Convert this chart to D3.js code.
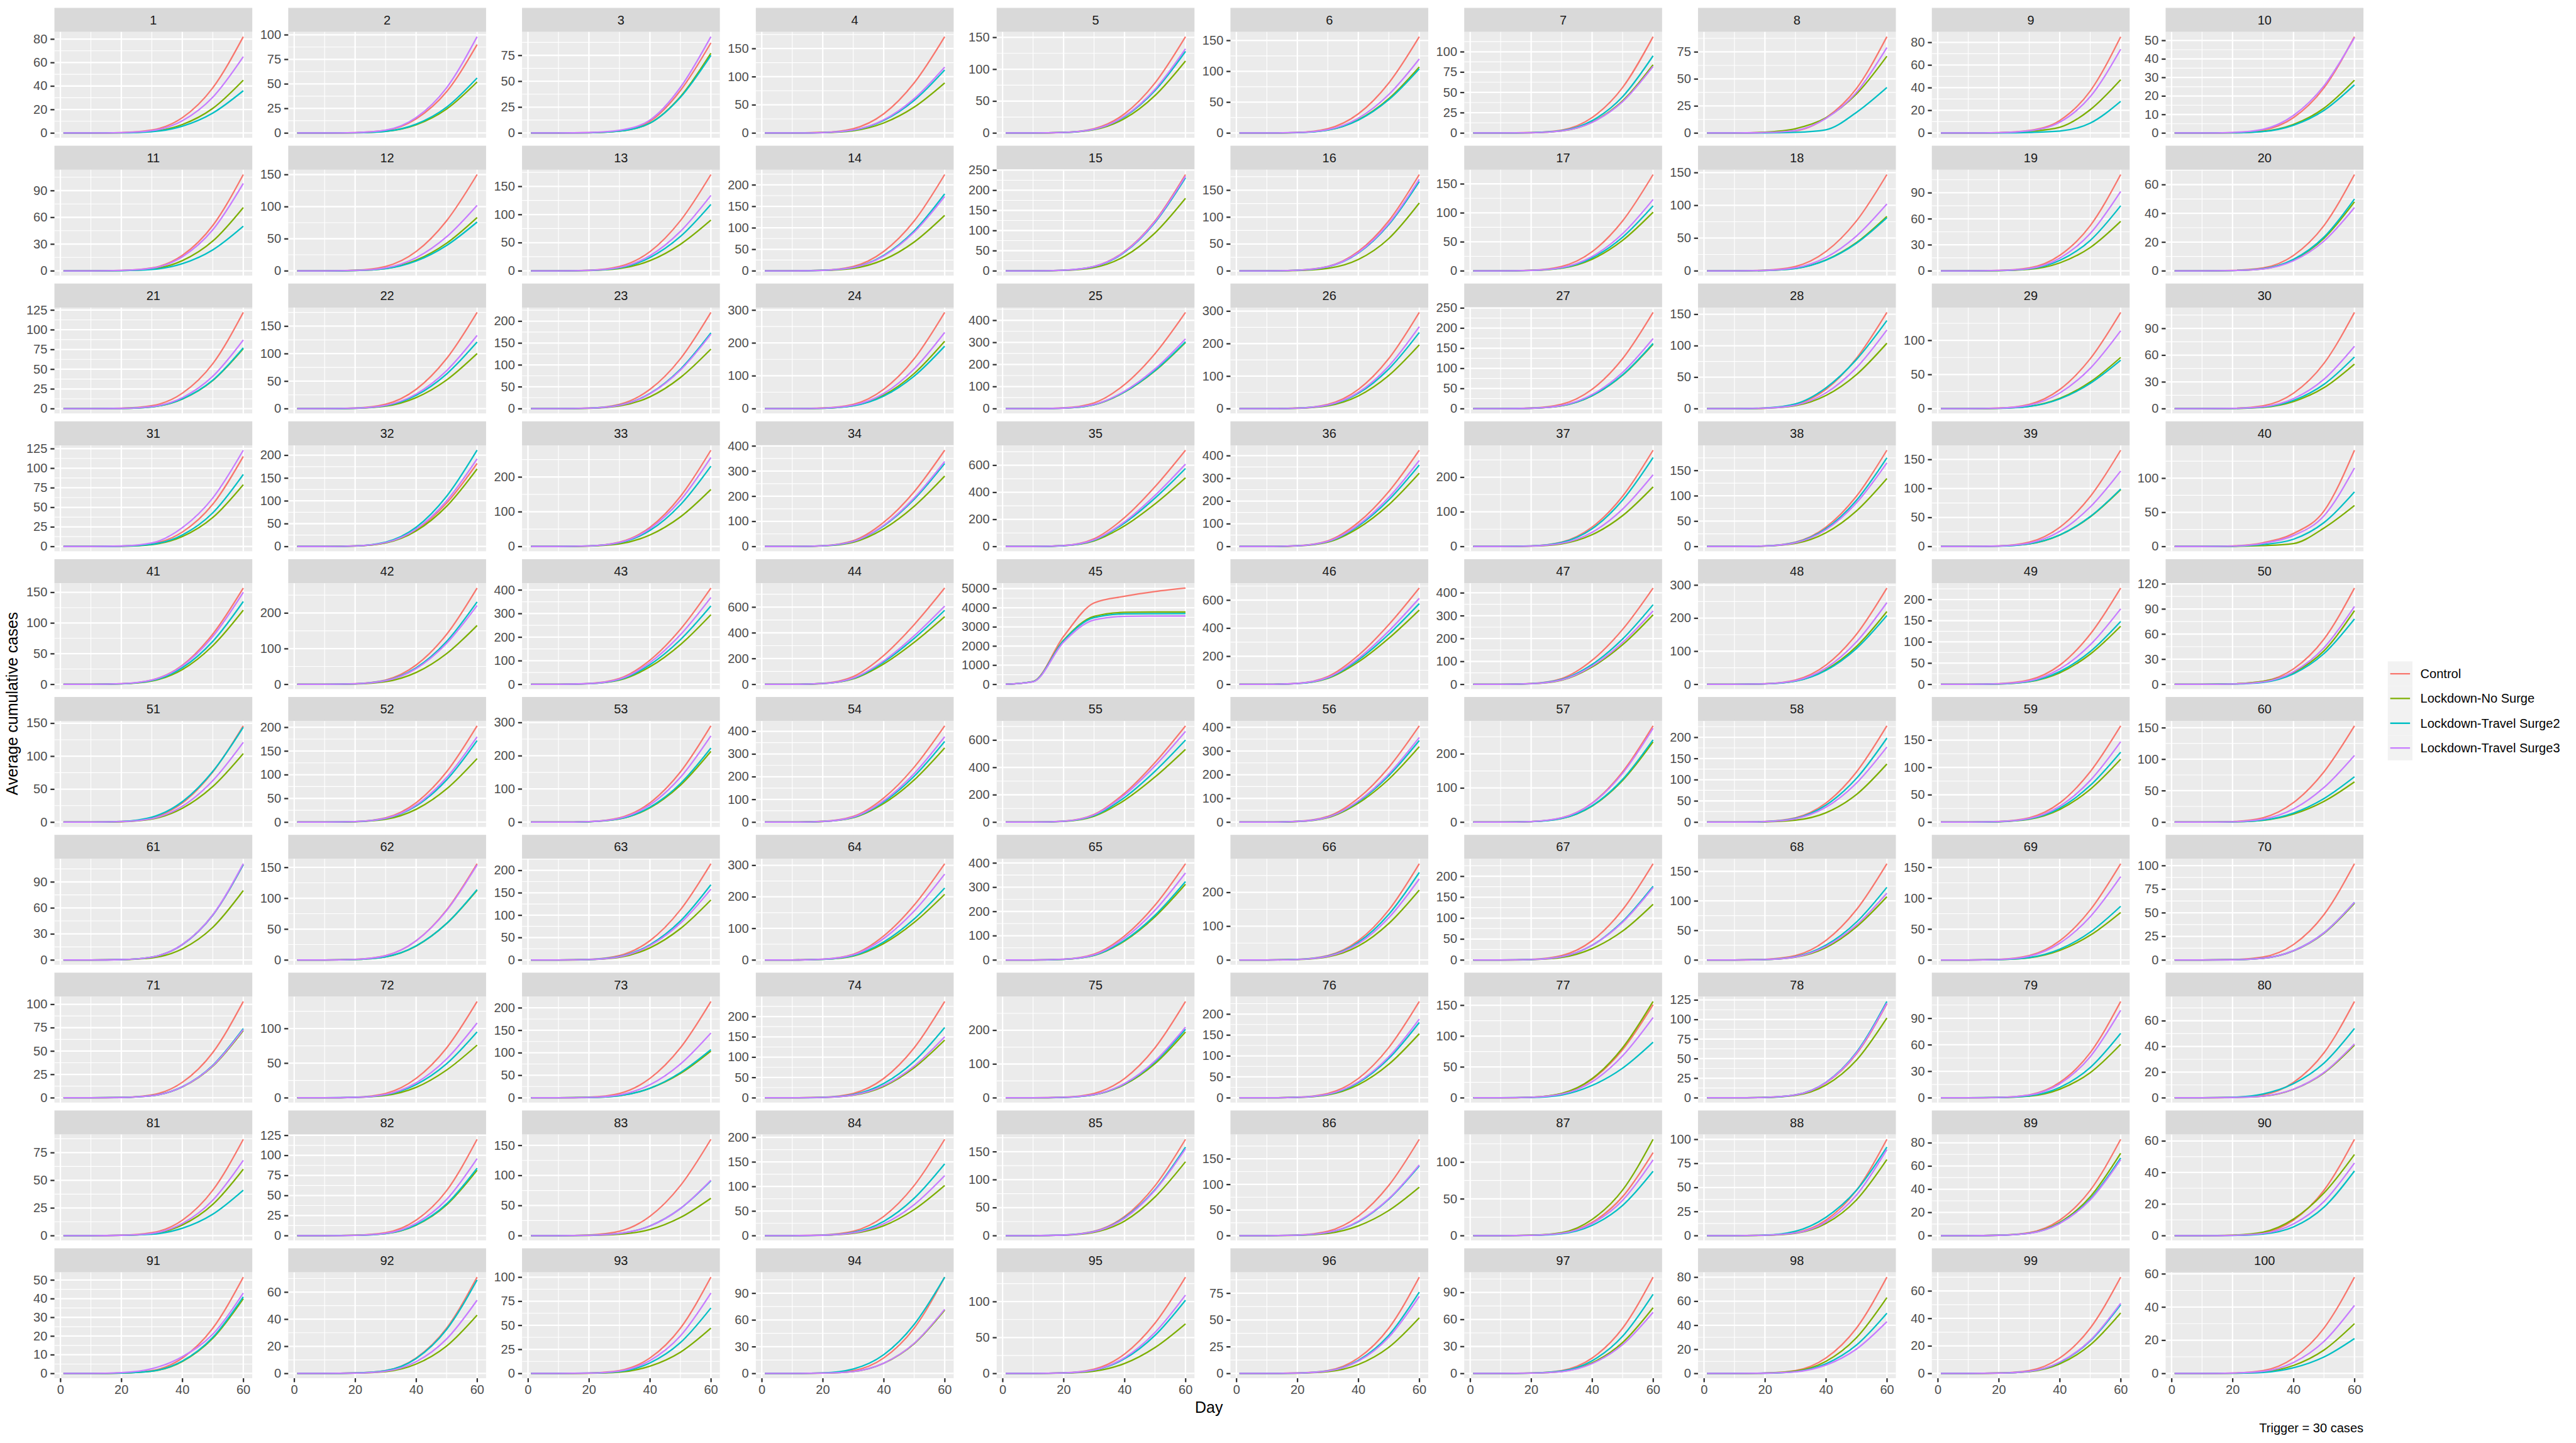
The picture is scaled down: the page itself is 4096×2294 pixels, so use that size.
<!DOCTYPE html>
<html><head><meta charset="utf-8"><title>Average cumulative cases</title>
<script src="https://cdn.jsdelivr.net/npm/d3@7/dist/d3.min.js"></script>
<style>html,body{margin:0;padding:0;background:#fff;}svg{display:block;}</style>
</head><body>
<svg id="chart" width="4096" height="2294" viewBox="0 0 7500 4200"></svg>
<script>
const days = [1, 10, 20, 30, 40, 50, 60];
const xTicks = [0, 20, 40, 60];
const panelLabels = ["1","2","3","4","5","6","7","8","9","10","11","12","13","14","15","16","17","18","19","20","21","22","23","24","25","26","27","28","29","30","31","32","33","34","35","36","37","38","39","40","41","42","43","44","45","46","47","48","49","50","51","52","53","54","55","56","57","58","59","60","61","62","63","64","65","66","67","68","69","70","71","72","73","74","75","76","77","78","79","80","81","82","83","84","85","86","87","88","89","90","91","92","93","94","95","96","97","98","99","100"];
const seriesNames = ["Control", "Lockdown-No Surge", "Lockdown-Travel Surge2", "Lockdown-Travel Surge3"];
const seriesColors = ["#F8766D", "#7CAE00", "#00BFC4", "#C77CFF"];
const xTitle = "Day";
const yTitle = "Average cumulative cases";
const caption = "Trigger = 30 cases";

const yTicks = [
[0,20,40,60,80],[0,25,50,75,100],[0,25,50,75],[0,50,100,150],[0,50,100,150],[0,50,100,150],[0,25,50,75,100],[0,25,50,75],[0,20,40,60,80],[0,10,20,30,40,50],
[0,30,60,90],[0,50,100,150],[0,50,100,150],[0,50,100,150,200],[0,50,100,150,200,250],[0,50,100,150],[0,50,100,150],[0,50,100,150],[0,30,60,90],[0,20,40,60],
[0,25,50,75,100,125],[0,50,100,150],[0,50,100,150,200],[0,100,200,300],[0,100,200,300,400],[0,100,200,300],[0,50,100,150,200,250],[0,50,100,150],[0,50,100],[0,30,60,90],
[0,25,50,75,100,125],[0,50,100,150,200],[0,100,200],[0,100,200,300,400],[0,200,400,600],[0,100,200,300,400],[0,100,200],[0,50,100,150],[0,50,100,150],[0,50,100],
[0,50,100,150],[0,100,200],[0,100,200,300,400],[0,200,400,600],[0,1000,2000,3000,4000,5000],[0,200,400,600],[0,100,200,300,400],[0,100,200,300],[0,50,100,150,200],[0,30,60,90,120],
[0,50,100,150],[0,50,100,150,200],[0,100,200,300],[0,100,200,300,400],[0,200,400,600],[0,100,200,300,400],[0,100,200],[0,50,100,150,200],[0,50,100,150],[0,50,100,150],
[0,30,60,90],[0,50,100,150],[0,50,100,150,200],[0,100,200,300],[0,100,200,300,400],[0,100,200],[0,50,100,150,200],[0,50,100,150],[0,50,100,150],[0,25,50,75,100],
[0,25,50,75,100],[0,50,100],[0,50,100,150,200],[0,50,100,150,200],[0,100,200],[0,50,100,150,200],[0,50,100,150],[0,25,50,75,100,125],[0,30,60,90],[0,20,40,60],
[0,25,50,75],[0,25,50,75,100,125],[0,50,100,150],[0,50,100,150,200],[0,50,100,150],[0,50,100,150],[0,50,100],[0,25,50,75,100],[0,20,40,60,80],[0,20,40,60],
[0,10,20,30,40,50],[0,20,40,60],[0,25,50,75,100],[0,30,60,90],[0,50,100],[0,25,50,75],[0,30,60,90],[0,20,40,60,80],[0,20,40,60],[0,20,40,60]
];

const control = [
[0,0,0.3,2.5,13,38.5,82],[0,0,0.4,2.7,14.4,42,90],[0,0,0.3,2.2,11.3,41,87],[0,0,1,7.7,34,89,171],[0,0,0.9,6.8,30,78.5,151],
[0,0,0.9,7,31,81,156],[0,0,0.5,3.6,19,56,118.5],[0,0,0.4,2,14,41,89],[0,0,0.3,2.2,11,37,85],[0,0,0.2,1.6,8.3,24.4,52],
[0,0,0.4,3.2,17.3,50.8,108],[0,0,0.9,6.8,30,78,150],[0,0,1,7.7,34,89,171],[0,0,1.3,10,45,116,224],[0,0,1.4,10.8,48,124,239],
[0,0,1.1,8,36,93,179],[0,0,1,7.5,33,86,166],[0,0,0.9,6.6,29.4,76,147],[0,0,0.4,3.3,17.8,52,111],[0,0,0.3,2,10.7,31.5,67],
[0,0,0.5,3.7,19.5,57,122],[0,0,1,7.9,35,91,175],[0,0,1.3,9.9,44,114,220],[0,0,1.8,13,59,152,293],[0,0,3.5,26,109,249,436],
[0,0,1.8,13.3,59,154,296],[0,0,1.4,10.8,48,124,239],[0,0,0.9,6.9,30.6,80,153],[0,0,0.8,6.3,28,73,141],[0,0,0.4,3.2,17.3,50.8,108],
[0,0,0.5,3.5,18.4,54,115],[0,0,1.1,8.2,36,95,182],[0,0,1.7,12.5,55,144,277],[0,0,3,23,96,218,383],[0,0,7,57,213,441,711],
[0,0,3.4,25,106,242,424],[0,0,1.7,12.5,56,145,278],[0,0,1.1,8.6,38,99,190],[0,0,1,7.5,33,86,166],[0,0,0.8,5.5,19,52,141],
[0,0,0.9,7,31,82,157],[0,0,1.6,12,54,140,270],[0,0,3.3,24.5,102,233,408],[0,0,7.5,60,224,464,748],[0,150,2500,4250,4600,4850,5030],
[0,0,6.9,55,206,425,686],[0,0,3.4,25,105,240,421],[0,0,1.7,13,58,151,291],[0,0,1.4,10.2,45,118,227],[0,0,0.5,3.5,18.4,54,115],
[0,0,0.9,6.6,29,76,146],[0,0,1.2,9.1,41,106,203],[0,0,1.7,13,58,151,290],[0,0,3.4,25,106,242,424],[0,0,7,56,211,436,704],
[0,0,3.2,24,101,231,406],[0,0,1.7,12.7,56,147,282],[0,0,1.4,10.2,45,118,227],[0,0,1.1,7.9,35,92,176],[0,0,0.9,6.9,31,80,153],
[0,0,0.4,3.3,17.6,51.7,110],[0,0,0.9,7,31,81,156],[0,0,1.3,9.7,43,112,215],[0,0,2.4,18,76,174,305],[0,0,3.2,24,99,226,397],
[0,0,1.7,12.8,57,148,285],[0,0,1.4,10.4,46,120,230],[0,0,1,7.3,33,85,163],[0,0,0.9,7,31,81,156],[0,0,0.4,3.1,16.3,48,102],
[0,0,0.4,3.1,16.5,48.4,103],[0,0,0.8,6.3,28,72,139],[0,0,1.3,9.6,43,111,214],[0,0,1.4,10.7,47.5,123,237],[0,0,1.7,12.8,57,148,285],
[0,0,1.4,10.4,46,120,230],[0,0,0.9,6.8,30,78,151],[0,0,0.5,3.6,19,56,120],[0,0,0.4,3.3,17.4,51,109],[0,0,0.3,2.3,12,35,75],
[0,0,0.3,2.6,13.9,41,87],[0,0,0.5,3.6,19.2,56,120],[0,0,1,7.2,32,83,160],[0,0,1.2,8.8,39,102,196],[0,0,1,7.7,34,89,172],
[0,0,1.1,8.5,38,98,188],[0,0,0.5,3.4,18,53,113],[0,0,0.4,3,16,47,100],[0,0,0.3,2.5,13.3,39,83],[0,0,0.2,1.8,9.8,28.7,61],
[0,0,0.2,1.5,8.2,24.2,51.5],[0,0,0.3,2.1,11.4,33.4,71],[0,0,0.4,3,16,47,100],[0,0,0.4,3.2,17.3,50.8,108],[0,0,0.8,6,27,70,134],
[0,0,0.4,2.7,14.4,42.3,90],[0,0,0.4,3.2,17.1,50.3,107],[0,0,0.3,2.4,12.8,37.6,80],[0,0,0.3,2.1,11.2,32.9,70],[0,0,0.2,1.7,9.3,27.3,58]
];

const noSurge = [
[0,0,0.2,1.4,7.2,21,45],[0,0,0.2,1.6,8.3,24.4,52],[0,0,0.2,1.8,9.5,35,77],[0,0,0.5,4,17.8,46,89],[0,0,0.7,5.1,22.6,58.8,113],
[0,0,0.6,4.8,21.4,55.6,107],[0,0,0.3,2.5,13.4,39.5,84],[0,0,0.8,4,14,36,71],[0,0,0.2,1.4,5,20.5,47],[0,0,0.1,0.9,4.6,13.4,28.5],
[0,0,0.3,2.1,11.4,33.4,71],[0,0,0.5,3.7,16.6,43,83],[0,0,0.5,4,18,47,90],[0,0,0.8,5.8,25.8,67,129],[0,0,1.1,8.1,36,94,180],
[0,0,0.6,4.5,21,60,126],[0,0,0.6,4.5,20,52.5,101],[0,0,0.5,3.7,16.6,43,83],[0,0,0.2,1.7,9.1,26.8,57],[0,0,0.2,1.4,7.7,22.6,48],
[0,0,0.3,2.3,12.2,35.7,76],[0,0,0.6,4.5,20,52,100],[0,0,0.8,6.1,27,71,136],[0,0,1.2,9.2,41,107,205],[0,0,2.4,18,75,171,300],
[0,0,1.2,8.8,39,102,196],[0,0,1,7.2,32,83,160],[0,0,0.6,4.7,20.8,54,104],[0,0,0.5,3.4,15,39,75],[0,0,0.2,1.5,8,23.5,50],
[0,0,0.3,2.4,12.6,37,79],[0,0,1,7.7,34,88,170],[0,0,1,7.4,33,85,164],[0,0,2.2,16.8,70,160,280],[0,0,5,41,152,314,507],
[0,0,2.6,19,81,184,323],[0,0,1,7.7,34,89,172],[0,0,0.8,6,27,70,134],[0,0,0.6,4.4,19.6,51,98],[0,0,0.2,1.2,4.3,27,60],
[0,0,0.7,5.4,24,63,121],[0,0,1,7.4,33,86,165],[0,0,2.4,17.7,74,168,295],[0,0,5.3,42,158,326,525],[0,140,2300,3550,3760,3778,3780],
[0,0,5.3,42,159,328,529],[0,0,2.4,18,76,173,304],[0,0,1.3,9.9,44,114,220],[0,0,0.8,6.2,27,71,137],[0,0,0.5,3.5,14,40,88],
[0,0,0.6,4.7,21,54,104],[0,0,0.8,6,27,70,134],[0,0,1.3,9.6,43,111,213],[0,0,2.6,19.6,82,186,327],[0,0,5.3,43,160,330,532],
[0,0,2.5,19,80,181,318],[0,0,1.4,10.6,47,122,235],[0,0,0.6,4.5,22,65,137],[0,0,0.7,5.2,23,60,115],[0,0,0.4,2.9,12.8,33,64],
[0,0,0.3,2.4,12.8,37.6,80],[0,0,0.7,5.1,22.6,59,113],[0,0,0.8,6,27,70,134],[0,0,1.7,12.5,52,119,208],[0,0,2.5,18.7,78,178,312],
[0,0,1.2,9.3,41,108,207],[0,0,0.8,6,27,69,133],[0,0,0.6,4.8,21,56,107],[0,0,0.5,3.5,15.4,40,77],[0,0,0.2,1.8,9.6,28.2,60],
[0,0,0.3,2.2,11.5,33.8,72],[0,0,0.5,3.4,15,40,76],[0,0,0.6,4.7,21,54,104],[0,0,0.9,6.4,28,74,142],[0,0,1.2,8.8,39,101,195],
[0,0,0.9,6.9,31,80,153],[0,0,0.9,7,31,81,156],[0,0,0.4,3.1,16.3,48,102],[0,0,0.2,1.8,9.7,28.4,60.5],[0,0,0.2,1.2,6.6,19.3,41],
[0,0,0.2,1.8,9.6,28.2,60],[0,0,0.3,2.4,13,38.3,81.5],[0,0,0.3,2.2,10,30,62],[0,0,0.6,4.6,20,53,102],[0,0,0.8,5.9,26,69,132],
[0,0,0.6,4.3,19,49,94.5],[0,0,0.5,4,22,62,131],[0,0,0.3,2.4,12.6,37,79],[0,0,0.3,2.1,11.4,33.4,71],[0,0,0.3,2.2,10.5,27,51.4],
[0,0,0.2,1.2,6.4,18.8,40],[0,0,0.2,1.3,6.9,20.2,43],[0,0,0.2,1.4,7.5,22,47],[0,0,0.3,2.1,11.4,33.4,71],[0,0,0.4,3.1,13.8,36,69],
[0,0,0.2,1.6,8.3,24.4,52],[0,0,0.3,2.2,11.7,34.3,73],[0,0,0.3,1.9,10,29.6,63],[0,0,0.2,1.3,7,20.7,44],[0,0,0.1,0.9,4.8,14.1,30]
];

const surge2 = [
[0,0,0.1,1.1,5.8,17,36],[0,0,0.2,1.7,9,26.3,56],[0,0,0.2,1.8,9.5,34.5,75],[0,0,0.7,5,22.4,58,112],[0,0,0.8,5.8,25.6,66.6,128],
[0,0,0.6,4.7,20.8,54,104],[0,0,0.4,2.9,15.2,44.7,95],[0,0,0.1,0.6,3,19,42],[0,0,0.1,0.5,1.7,8.7,28],[0,0,0.1,0.8,4.2,12.2,26],
[0,0,0.2,1.5,8,23.5,50],[0,0,0.5,3.4,15.2,39.5,76],[0,0,0.7,5.3,23.6,61,118],[0,0,1.1,8,36,93,179],[0,0,1.4,10.4,46,120,231],
[0,0,1,7.5,33,86,166],[0,0,0.7,5,22.4,58,112],[0,0,0.5,3.6,16.2,42,81],[0,0,0.3,2.3,12,35,75],[0,0,0.2,1.5,8,23.5,50],
[0,0,0.3,2.3,12.3,36,77],[0,0,0.7,5.4,24.2,63,121],[0,0,1,7.8,34.6,90,173],[0,0,1.1,8.6,38,99,190],[0,0,2.4,18,76,173,303],
[0,0,1.4,10.5,47,122,234],[0,0,1,7.3,32.4,84,162],[0,0,1,7.5,33,78,140],[0,0,0.4,3.2,14.2,37,71],[0,0,0.2,1.7,9.3,27.3,58],
[0,0,0.4,2.8,14.7,43,92],[0,0,1.3,9.5,42,110,211],[0,0,1.4,10.4,46,120,231],[0,0,2.6,19.8,82,188,330],[0,0,5.8,46,173,357,576],
[0,0,2.9,21.5,90,205,359],[0,0,1.5,11.6,51,134,257],[0,0,1,7.9,35,91,175],[0,0,0.6,4.5,19.8,51.5,99],[0,0,0.4,2.8,10.6,35,80],
[0,0,0.8,6,27,70,135],[0,0,1.4,10.4,46,120,231],[0,0,2.7,20,83,189,332],[0,0,5.8,46,173,357,575],[0,140,2280,3480,3680,3692,3695],
[0,0,5.8,46,173,357,575],[0,0,2.8,21,87,198,348],[0,0,1.2,9.4,42,108,208],[0,0,0.9,6.7,30,77,148],[0,0,0.3,2.3,12.5,36.7,78],
[0,0,1,7.5,31,77,144],[0,0,1,7.7,34,89,172],[0,0,1.3,10,45,116,223],[0,0,2.8,21,89,202,355],[0,0,6,48,180,372,600],
[0,0,2.8,21,86,196,344],[0,0,1.4,10.8,48,125,241],[0,0,1.2,8.9,40,103,198],[0,0,0.8,5.8,25.6,67,128],[0,0,0.4,3.2,14.4,37.4,72],
[0,0,0.4,3.3,17.6,51.7,110],[0,0,0.7,5.1,22.8,59,114],[0,0,1,7.6,34,87,168],[0,0,1.8,13.7,57,130,228],[0,0,2.6,19.4,81,184,323],
[0,0,1.6,11.7,52,135,259],[0,0,1.1,7.9,35,92,176],[0,0,0.7,5.5,25,64,123],[0,0,0.5,3.9,17.4,45,87],[0,0,0.2,1.8,9.8,28.7,61],
[0,0,0.3,2.2,11.8,34.8,74],[0,0,0.6,4.3,19,49,95],[0,0,0.6,4.8,21,56,107],[0,0,1,7.8,35,90,173],[0,0,1.2,9.1,41,106,203],
[0,0,1.1,8.1,36,94,180],[0,0,0.5,4.5,20,48,90],[0,0,0.5,3.7,19.7,58,123],[0,0,0.3,2.2,11.7,34.3,73],[0,0,0.4,3,11,27,54],
[0,0,0.2,1.2,6.6,19.3,41],[0,0,0.3,2.5,13.4,39.5,84],[0,0,0.5,3.5,16,45,91],[0,0,0.9,6.6,29,76,146],[0,0,0.9,7.1,32,82,158],
[0,0,0.8,6.1,27,71,136],[0,0,0.4,2.6,14,41,87.5],[0,0,0.5,4.5,19,47,92],[0,0,0.3,2,10.7,31.5,67],[0,0,0.1,1,5.5,18,41],
[0,0,0.2,1.2,6.6,19.3,41],[0,0,0.3,2.1,11,32.4,69],[0,0,0.3,2,10.9,32,68],[0,0,0.6,5,21,55,108],[0,0,0.6,4.6,20.4,53,102],
[0,0,0.3,2.3,12.2,35.7,76],[0,0,0.4,2.6,14.1,41.4,88],[0,0,0.2,1.5,8,23.5,50],[0,0,0.2,1.5,8,23.5,50],[0,0,0.1,0.6,3.4,9.9,21]
];

const surge3 = [
[0,0,0.3,2,10.4,30.5,65],[0,0,0.4,2.9,15.7,46,98],[0,0,0.4,2.6,12.5,44,93],[0,0,0.7,5.3,23.4,61,117],[0,0,0.8,5.9,26.4,68.6,132],
[0,0,0.7,5.4,24,62.4,120],[0,0,0.3,2.5,13.1,38.5,82],[0,0,0.4,2.4,13.5,37.5,79],[0,0,0.3,2,9.5,32,74],[0,0,0.3,2,9.5,25.5,51.5],
[0,0,0.4,2.9,15.7,46,98],[0,0,0.6,4.6,20.4,53,102],[0,0,0.8,6,26.8,70,134],[0,0,1,7.8,34.6,90,173],[0,0,1.4,10.6,47,122,235],
[0,0,1,7.7,34,88,170],[0,0,0.7,5.5,24.6,64,123],[0,0,0.6,4.6,20.4,53,102],[0,0,0.4,2.7,14.6,43,91.5],[0,0,0.2,1.3,7,20.7,44],
[0,0,0.3,2.6,13.9,41,87],[0,0,0.8,6,26.6,69,133],[0,0,1,7.7,34,88,170],[0,0,1.4,10.4,46,121,232],[0,0,2.5,19,79,180,316],
[0,0,1.5,11.3,50,131,252],[0,0,1,7.8,34.8,90,174],[0,0,0.8,5.6,25,65,125],[0,0,0.7,5.1,22.8,59,114],[0,0,0.3,2.1,11.2,33,70],
[0,0,0.6,4.5,24,62,123],[0,0,1.2,8.6,38,100,192],[0,0,1.5,11.5,51,133,256],[0,0,2.7,20,84,193,338],[0,0,6,49,182,377,608],
[0,0,3,22.7,95,216,379],[0,0,1.2,9.3,41,108,207],[0,0,1,7.4,33,86,165],[0,0,0.8,5.9,26,68,130],[0,0,0.6,4.5,16,45,115],
[0,0,0.9,6.8,30,78,150],[0,0,1.3,10,44,115,221],[0,0,2.9,22,92,210,368],[0,0,6,49,182,377,608],[0,130,2200,3360,3550,3565,3570],
[0,0,6.1,49,184,380,613],[0,0,2.6,19,80,183,321],[0,0,1.5,11,49,128,247],[0,0,1.1,8,36,93,178],[0,0,0.4,2.8,14.9,43.7,93],
[0,0,0.7,5.4,24,63,121],[0,0,1.1,8.1,36,94,180],[0,0,1.6,11.7,52,135,260],[0,0,3,22.6,94,214,376],[0,0,6.6,53,199,412,664],
[0,0,2.9,21,89,203,357],[0,0,1.7,12.4,55,143,275],[0,0,1.1,8,35,92,177],[0,0,0.9,6.6,29,76,147],[0,0,0.6,4.8,21,55,106],
[0,0,0.4,3.3,17.8,52,111],[0,0,0.9,6.9,31,80,154],[0,0,0.9,7.1,32,82,158],[0,0,2.2,16.3,68,155,272],[0,0,2.9,21.5,90,205,359],
[0,0,1.4,10.8,48,125,240],[0,0,1,7.8,35,90,173],[0,0,0.7,5.1,23,59,113],[0,0,0.8,6.1,27,70,135],[0,0,0.2,1.8,9.8,28.7,61],
[0,0,0.3,2.2,11.7,34.3,73],[0,0,0.6,4.9,21.6,56,108],[0,0,0.9,6.5,29,75,144],[0,0,0.9,6.8,30,78,150],[0,0,1.3,9.4,42,109,209],
[0,0,1.1,8.5,38,98,188],[0,0,0.8,5.9,26,68,130],[0,0,0.5,3.6,19.4,57,121],[0,0,0.4,3,15.8,46.5,99],[0,0,0.2,1.3,6.7,19.7,42],
[0,0,0.3,2,10.9,32,68],[0,0,0.4,2.9,15.4,45,96],[0,0,0.5,3.6,16,45,92],[0,0,0.7,5.5,24,63,122],[0,0,0.9,7,31,81,155],
[0,0,0.8,6.2,28,72,138],[0,0,0.4,3.1,16.5,48,103],[0,0,0.4,2.7,14.3,42,89.5],[0,0,0.3,2,10.5,30.8,65.5],[0,0,0.2,1.4,7.4,21.6,46],
[0,0,0.4,2.5,9,21,43],[0,0,0.2,1.6,8.6,25.4,54],[0,0,0.3,2.5,13.4,39,83.5],[0,0,0.3,2.2,11.5,33.8,72],[0,0,0.7,4.9,21.8,57,109],
[0,0,0.3,2.2,11.5,33.8,72],[0,0,0.3,2,10.9,32,68],[0,0,0.2,1.3,6.9,20.2,43],[0,0,0.2,1.5,8.2,24,51],[0,0,0.2,1.2,6.6,19.3,41]
];

const allSeries = [control, noSurge, surge2, surge3];

// ---------- layout (reference px, scaled by viewBox) ----------
const FONT = "'Liberation Sans', Arial, Helvetica, sans-serif";
const PW = 576, PH = 308.2, SH = 70, ROW0 = 22.7, ROWP = 401.2, SP = 23;
const TL = 11.5, TP = 9, DW = 20.4, LEFT0 = 76.8;
const FS_AX = 36.7, FS_TI = 45.8;
const LW = 4.2, GMAJ = 4.2, GMIN = 2.1;
const NCOL = 10, NROW = 10;

const svg = d3.select("#chart").style("font-family", FONT);
svg.append("rect").attr("width", 7500).attr("height", 4200).attr("fill", "#FFFFFF");

const colLen = d3.range(NCOL).map(c => d3.max(d3.range(NROW), r => d3.max(yTicks[r * NCOL + c], t => String(t).length)));
const lefts = [];
let acc = LEFT0;
colLen.forEach(n => { acc += TL + TP + n * DW; lefts.push(acc); acc += PW + SP; });

const dMin = d3.min(days), dMax = d3.max(days);
const xDom = [dMin - 0.05 * (dMax - dMin), dMax + 0.05 * (dMax - dMin)];

function minorBreaks(ticks, dom) {
  const st = ticks[1] - ticks[0];
  const ext = [ticks[0] - st].concat(ticks, [ticks[ticks.length - 1] + st]);
  const out = [];
  for (let k = 0; k < ext.length - 1; k++) {
    const m = (ext[k] + ext[k + 1]) / 2;
    if (m >= Math.min(dom[0], dom[1]) && m <= Math.max(dom[0], dom[1])) out.push(m);
  }
  return out;
}

panelLabels.forEach((lab, i) => {
  const r = Math.floor(i / NCOL), c = i % NCOL;
  const left = lefts[c];
  const top = ROW0 + r * ROWP, pTop = top + SH, pBot = pTop + PH;
  const x = d3.scaleLinear().domain(xDom).range([left, left + PW]);
  const vals = allSeries.flatMap(s => s[i]);
  const lo = d3.min(vals), hi = d3.max(vals), pad = 0.05 * (hi - lo);
  const y = d3.scaleLinear().domain([lo - pad, hi + pad]).range([pBot, pTop]);
  const g = svg.append("g").attr("class", "panel");

  // strip
  g.append("rect").attr("x", left).attr("y", top).attr("width", PW).attr("height", SH).attr("fill", "#D9D9D9");
  g.append("text").attr("x", left + PW / 2).attr("y", top + SH / 2).attr("dy", "0.36em")
    .attr("text-anchor", "middle").attr("font-size", FS_AX).attr("fill", "#1A1A1A").text(lab);

  // panel background
  g.append("rect").attr("x", left).attr("y", pTop).attr("width", PW).attr("height", PH).attr("fill", "#EBEBEB");

  // minor grid
  g.selectAll(null).data(minorBreaks(yTicks[i], y.domain())).join("line")
    .attr("x1", left).attr("x2", left + PW).attr("y1", d => y(d)).attr("y2", d => y(d))
    .attr("stroke", "#FFFFFF").attr("stroke-width", GMIN);
  g.selectAll(null).data(minorBreaks(xTicks, xDom)).join("line")
    .attr("y1", pTop).attr("y2", pBot).attr("x1", d => x(d)).attr("x2", d => x(d))
    .attr("stroke", "#FFFFFF").attr("stroke-width", GMIN);
  // major grid
  g.selectAll(null).data(yTicks[i]).join("line")
    .attr("x1", left).attr("x2", left + PW).attr("y1", d => y(d)).attr("y2", d => y(d))
    .attr("stroke", "#FFFFFF").attr("stroke-width", GMAJ);
  g.selectAll(null).data(xTicks).join("line")
    .attr("y1", pTop).attr("y2", pBot).attr("x1", d => x(d)).attr("x2", d => x(d))
    .attr("stroke", "#FFFFFF").attr("stroke-width", GMAJ);

  // series lines
  const line = d3.line().x((d, k) => x(days[k])).y(d => y(d)).curve(d3.curveMonotoneX);
  allSeries.forEach((s, k) => {
    g.append("path").attr("d", line(s[i])).attr("fill", "none")
      .attr("stroke", seriesColors[k]).attr("stroke-width", LW)
      .attr("stroke-linejoin", "round").attr("stroke-linecap", "butt");
  });

  // y axis
  const ya = g.append("g").attr("transform", `translate(${left},0)`)
    .call(d3.axisLeft(y).tickValues(yTicks[i]).tickSize(TL).tickPadding(TP).tickFormat(d3.format("d")));
  ya.select(".domain").remove();
  ya.selectAll(".tick line").attr("stroke", "#333333").attr("stroke-width", GMAJ);
  ya.selectAll(".tick text").attr("fill", "#4D4D4D").attr("font-size", FS_AX).attr("font-family", FONT);

  // x axis on bottom row
  if (r === NROW - 1) {
    const xa = g.append("g").attr("transform", `translate(0,${pBot})`)
      .call(d3.axisBottom(x).tickValues(xTicks).tickSize(TL).tickPadding(TP).tickFormat(d3.format("d")));
    xa.select(".domain").remove();
    xa.selectAll(".tick line").attr("stroke", "#333333").attr("stroke-width", GMAJ);
    xa.selectAll(".tick text").attr("fill", "#4D4D4D").attr("font-size", FS_AX).attr("font-family", FONT);
  }
});

// axis titles
const gridLeft = lefts[0], gridRight = lefts[NCOL - 1] + PW;
svg.append("text").attr("x", (gridLeft + gridRight) / 2).attr("y", 4113)
  .attr("text-anchor", "middle").attr("font-size", FS_TI).attr("fill", "#000000").text(xTitle);
svg.append("text").attr("transform", "translate(52,2048) rotate(-90)")
  .attr("text-anchor", "middle").attr("font-size", FS_TI).attr("fill", "#000000").text(yTitle);

// caption
svg.append("text").attr("x", gridRight).attr("y", 4170)
  .attr("text-anchor", "end").attr("font-size", FS_AX).attr("fill", "#000000").text(caption);

// legend
const LGX = 6952, LGY = 1925, KEY = 72;
const lg = svg.append("g").attr("class", "legend");
seriesNames.forEach((nm, k) => {
  const ky = LGY + k * KEY;
  lg.append("rect").attr("x", LGX).attr("y", ky).attr("width", KEY).attr("height", KEY).attr("fill", "#F2F2F2");
  lg.append("line").attr("x1", LGX + 0.1 * KEY).attr("x2", LGX + 0.9 * KEY)
    .attr("y1", ky + KEY / 2).attr("y2", ky + KEY / 2)
    .attr("stroke", seriesColors[k]).attr("stroke-width", LW);
  lg.append("text").attr("x", LGX + KEY + 23).attr("y", ky + KEY / 2).attr("dy", "0.35em")
    .attr("font-size", FS_AX).attr("fill", "#000000").text(nm);
});
</script>
</body></html>
